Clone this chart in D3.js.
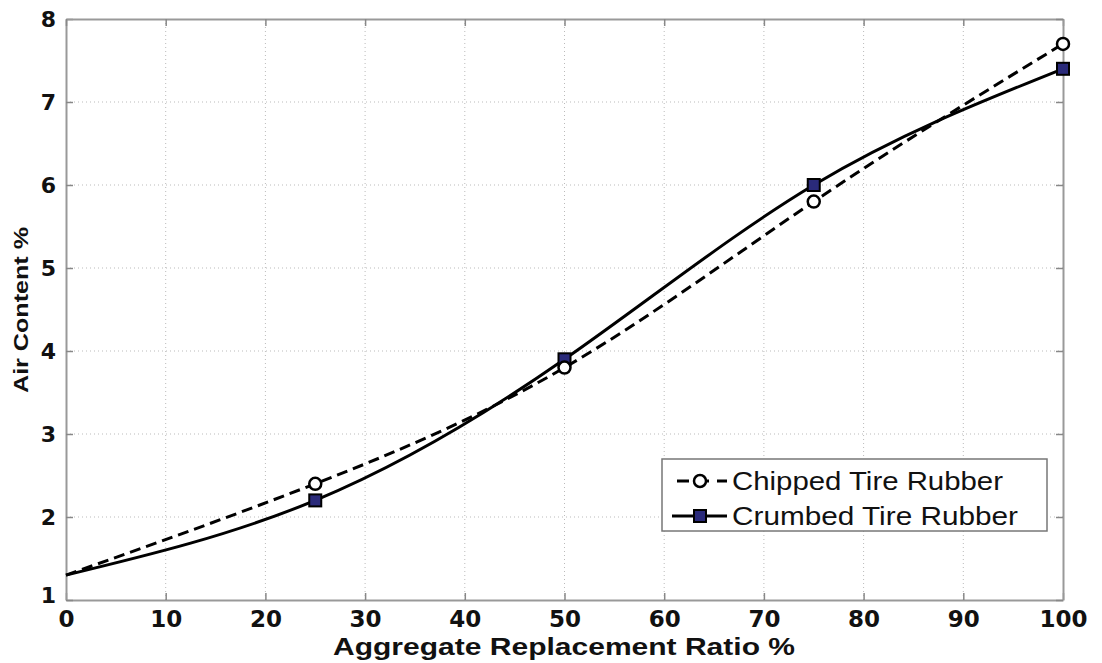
<!DOCTYPE html>
<html><head><meta charset="utf-8">
<script src="https://cdn.jsdelivr.net/npm/d3@7"></script>
<style>body{margin:0;background:#fff;} svg{display:block;}</style>
</head><body>
<svg id="c" width="1102" height="663"></svg>
<script>
const ratio = [0, 25, 50, 75, 100];
const chipped = [1.3, 2.4, 3.8, 5.8, 7.7];
const crumbed = [1.3, 2.2, 3.9, 6.0, 7.4];
const xTicks = [0,10,20,30,40,50,60,70,80,90,100];
const yTicks = [1,2,3,4,5,6,7,8];
const seriesNames = ["Chipped Tire Rubber", "Crumbed Tire Rubber"];

const svg = d3.select("#c");
const L = 66, R = 1063, T = 19, B = 600;
const x = d3.scaleLinear().domain([0,100]).range([L,R]);
const y = d3.scaleLinear().domain([1,8]).range([B,T]);
const font = "Liberation Sans, Arial, sans-serif";
const tickFont = "DejaVu Sans, sans-serif";

// grid
const g = svg.append("g");
g.selectAll(".vx").data(xTicks.slice(1,-1)).enter().append("line")
  .attr("x1",d=>x(d)).attr("x2",d=>x(d)).attr("y1",T).attr("y2",B)
  .attr("stroke","#bbb").attr("stroke-width",1).attr("stroke-dasharray","1,3");
g.selectAll(".hy").data(yTicks.slice(1,-1)).enter().append("line")
  .attr("y1",d=>y(d)).attr("y2",d=>y(d)).attr("x1",L).attr("x2",R)
  .attr("stroke","#bbb").attr("stroke-width",1).attr("stroke-dasharray","1,3");

// axes with inward ticks
const fmt = d3.format("d");
const axB = d3.axisBottom(x).tickValues(xTicks).tickFormat(fmt).tickSizeInner(-7).tickSizeOuter(0).tickPadding(10);
const axL = d3.axisLeft(y).tickValues(yTicks).tickFormat(fmt).tickSizeInner(-7).tickSizeOuter(0).tickPadding(10);
const axT = d3.axisTop(x).tickValues(xTicks).tickSizeInner(-7).tickSizeOuter(0).tickFormat("");
const axR = d3.axisRight(y).tickValues(yTicks).tickSizeInner(-7).tickSizeOuter(0).tickFormat("");
function style(sel){
  sel.selectAll("path").attr("stroke","#999").attr("stroke-width",2);
  sel.selectAll("line").attr("stroke","#888").attr("stroke-width",1.5);
  sel.selectAll("text").attr("font-family",tickFont).attr("font-size",22).attr("font-weight","bold").attr("fill","#111");
}
const gb = svg.append("g").attr("transform",`translate(0,${B})`).call(axB); style(gb);
const gl = svg.append("g").attr("transform",`translate(${L},0)`).call(axL); style(gl);
const gt = svg.append("g").attr("transform",`translate(0,${T})`).call(axT); style(gt);
const gr = svg.append("g").attr("transform",`translate(${R},0)`).call(axR); style(gr);
gb.selectAll("text").attr("font-size",23).attr("dy","0.72em");
gl.selectAll("text").filter(d=>d===1).attr("dy","0.1em");

// titles
svg.append("text").attr("x",564).attr("y",655).attr("text-anchor","middle")
  .attr("font-family",font).attr("font-size",23).attr("font-weight","bold").attr("fill","#111")
  .attr("textLength",462).attr("lengthAdjust","spacingAndGlyphs")
  .text("Aggregate Replacement Ratio %");
svg.append("text").attr("transform",`translate(28,310) rotate(-90)`).attr("text-anchor","middle")
  .attr("font-family",font).attr("font-size",20).attr("font-weight","bold").attr("fill","#111")
  .attr("textLength",166).attr("lengthAdjust","spacingAndGlyphs")
  .text("Air Content %");

// lines
const line = d3.line().x(d=>x(d[0])).y(d=>y(d[1])).curve(d3.curveNatural);
const dChip = ratio.map((r,i)=>[r,chipped[i]]);
const dCrum = ratio.map((r,i)=>[r,crumbed[i]]);
svg.append("path").attr("d",line(dCrum)).attr("fill","none").attr("stroke","#000").attr("stroke-width",3);
svg.append("path").attr("d",line(dChip)).attr("fill","none").attr("stroke","#000").attr("stroke-width",3).attr("stroke-dasharray","11,6");

// markers
svg.selectAll(".sq").data(dCrum.slice(1)).enter().append("rect")
  .attr("x",d=>x(d[0])-6).attr("y",d=>y(d[1])-6).attr("width",12).attr("height",12)
  .attr("fill","#2a2a7a").attr("stroke","#000").attr("stroke-width",2);
svg.selectAll(".ci").data(dChip.slice(1)).enter().append("circle")
  .attr("cx",d=>x(d[0])).attr("cy",d=>y(d[1])).attr("r",6)
  .attr("fill","#fff").attr("stroke","#000").attr("stroke-width",2.5);

// legend
const lg = svg.append("g");
lg.append("rect").attr("x",662).attr("y",459).attr("width",385).attr("height",72)
  .attr("fill","#fff").attr("stroke","#777").attr("stroke-width",1.5);
const ly = [481, 516];
lg.append("line").attr("x1",677).attr("x2",727).attr("y1",ly[0]).attr("y2",ly[0])
  .attr("stroke","#000").attr("stroke-width",3).attr("stroke-dasharray","12,8");
lg.append("circle").attr("cx",700).attr("cy",ly[0]).attr("r",6).attr("fill","#fff").attr("stroke","#000").attr("stroke-width",2.5);
lg.append("line").attr("x1",672).attr("x2",727).attr("y1",ly[1]).attr("y2",ly[1])
  .attr("stroke","#000").attr("stroke-width",3);
lg.append("rect").attr("x",694).attr("y",ly[1]-6).attr("width",12).attr("height",12)
  .attr("fill","#2a2a7a").attr("stroke","#000").attr("stroke-width",2);
lg.selectAll(".lt").data(seriesNames).enter().append("text")
  .attr("x",732).attr("y",(d,i)=>ly[i]+9)
  .attr("font-family",font).attr("font-size",25).attr("fill","#111")
  .attr("textLength",(d,i)=>i===0?271:286).attr("lengthAdjust","spacingAndGlyphs")
  .text(d=>d);
</script>
</body></html>
